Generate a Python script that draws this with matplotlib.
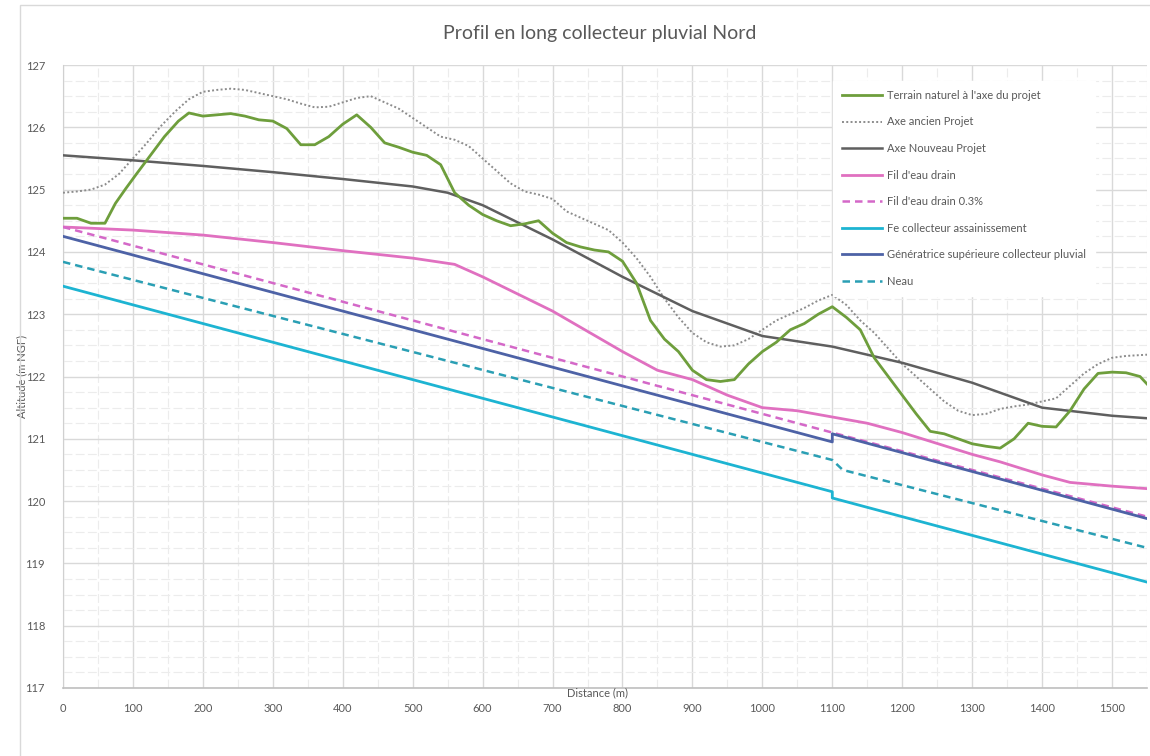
import matplotlib
matplotlib.use("Agg")
import matplotlib.pyplot as plt
from matplotlib.ticker import MultipleLocator
from matplotlib.patches import Rectangle
import numpy as np

plt.rcParams['font.family'] = ['Lato', 'DejaVu Sans']

# ---- data -------------------------------------------------------------
tn_dist = [0, 20, 40, 60, 75, 90, 105, 125, 145, 165, 180, 200, 220, 240, 260,
           280, 300, 320, 340, 360, 380, 400, 420, 440, 460, 480, 500, 520, 540,
           560, 580, 600, 620, 640, 660, 680, 700, 720, 740, 760, 780, 800, 820,
           840, 860, 880, 900, 920, 940, 960, 980, 1000, 1020, 1040, 1060, 1080,
           1100, 1120, 1140, 1160, 1180, 1200, 1220, 1240, 1260, 1280, 1300,
           1320, 1340, 1360, 1380, 1400, 1420, 1440, 1460, 1480, 1500, 1520,
           1540, 1550]
tn_alt = [124.54, 124.54, 124.46, 124.46, 124.78, 125.02, 125.25, 125.55, 125.85,
          126.1, 126.23, 126.18, 126.2, 126.22, 126.18, 126.12, 126.1, 125.98,
          125.72, 125.72, 125.85, 126.05, 126.2, 126.0, 125.75, 125.68, 125.6,
          125.55, 125.4, 124.95, 124.75, 124.6, 124.5, 124.42, 124.45, 124.5,
          124.3, 124.15, 124.08, 124.03, 124.0, 123.85, 123.5, 122.9, 122.6,
          122.4, 122.1, 121.95, 121.92, 121.95, 122.2, 122.4, 122.55, 122.75,
          122.85, 123.0, 123.12, 122.95, 122.75, 122.3, 122.0, 121.7, 121.4,
          121.12, 121.08, 121.0, 120.92, 120.88, 120.85, 121.0, 121.25, 121.2,
          121.19, 121.45, 121.8, 122.05, 122.07, 122.06, 122.0, 121.88]

anc_dist = [0, 20, 40, 60, 80, 100, 120, 140, 160, 180, 200, 220, 240, 260, 280,
            300, 320, 340, 360, 380, 400, 420, 440, 460, 480, 500, 520, 540, 560,
            580, 600, 620, 640, 660, 680, 700, 720, 740, 760, 780, 800, 820, 840,
            860, 880, 900, 920, 940, 960, 980, 1000, 1020, 1040, 1060, 1080, 1100,
            1120, 1140, 1160, 1180, 1200, 1220, 1240, 1260, 1280, 1300, 1320, 1340,
            1360, 1380, 1400, 1420, 1440, 1460, 1480, 1500, 1520, 1550]
anc_alt = [124.95, 124.97, 125.0, 125.08, 125.25, 125.5, 125.75, 126.02, 126.25,
           126.45, 126.57, 126.6, 126.62, 126.6, 126.55, 126.5, 126.45, 126.38,
           126.32, 126.33, 126.4, 126.47, 126.5, 126.4, 126.3, 126.15, 126.0,
           125.85, 125.8, 125.7, 125.5, 125.3, 125.1, 124.97, 124.92, 124.85,
           124.65, 124.55, 124.45, 124.35, 124.15, 123.9, 123.6, 123.25, 122.95,
           122.7, 122.55, 122.48, 122.5, 122.6, 122.75, 122.9, 123.0, 123.1,
           123.22, 123.31, 123.15, 122.9, 122.7, 122.45, 122.2, 122.0, 121.8,
           121.6, 121.45, 121.38, 121.4, 121.48, 121.52, 121.55, 121.6, 121.65,
           121.85, 122.05, 122.2, 122.3, 122.33, 122.35]

nouv_dist = [0, 100, 200, 300, 400, 500, 550, 600, 700, 800, 900, 1000, 1100,
             1200, 1300, 1400, 1500, 1550]
nouv_alt = [125.55, 125.47, 125.38, 125.28, 125.17, 125.05, 124.95, 124.75, 124.2,
            123.6, 123.05, 122.65, 122.48, 122.22, 121.9, 121.5, 121.37, 121.33]

drain_dist = [0, 100, 200, 300, 400, 500, 560, 600, 700, 800, 850, 900, 950, 1000,
              1050, 1100, 1150, 1200, 1300, 1340, 1400, 1440, 1500, 1550]
drain_alt = [124.4, 124.35, 124.27, 124.15, 124.02, 123.9, 123.8, 123.6, 123.05,
             122.4, 122.1, 121.95, 121.7, 121.5, 121.45, 121.35, 121.25, 121.1,
             120.75, 120.63, 120.42, 120.3, 120.24, 120.2]

drain03_dist = [0, 1550]
drain03_alt = [124.4, 119.75]

fe_dist = [0, 1100, 1100, 1550]
fe_alt = [123.45, 120.15, 120.05, 118.7]

gen_dist = [0, 1100, 1100, 1550]
gen_alt = [124.25, 120.95, 121.08, 119.72]

neau_dist = [0, 1100, 1115, 1550]
neau_alt = [123.84, 120.66, 120.5, 119.25]

labels = ["Terrain naturel à l'axe du projet", "Axe ancien Projet",
          "Axe Nouveau Projet", "Fil d'eau drain", "Fil d'eau drain 0.3%",
          "Fe collecteur assainissement",
          "Génératrice supérieure collecteur pluvial", "Neau"]

# ---- figure -----------------------------------------------------------
W, H = 1150, 756
fig = plt.figure(figsize=(W / 100, H / 100), dpi=100)
left, right, top, bottom = 63, 1147, 65, 688
ax = fig.add_axes([left / W, 1 - bottom / H, (right - left) / W, (bottom - top) / H])

# chart frame
fig.add_artist(Rectangle((20 / W, -0.05), 1.2, 1 - 5 / H + 0.05,
                         transform=fig.transFigure, fill=False,
                         edgecolor='#d9d9d9', linewidth=1.0))

ax.plot(tn_dist, tn_alt, color='#6e9e3c', lw=2.0, label=labels[0], zorder=5)
ax.plot(anc_dist, anc_alt, color='#8c8c8c', lw=1.4, ls=(0, (1, 1.2)), label=labels[1], zorder=4)
ax.plot(nouv_dist, nouv_alt, color='#5f5f5f', lw=1.8, label=labels[2], zorder=4)
ax.plot(drain_dist, drain_alt, color='#e070c0', lw=2.0, label=labels[3], zorder=4)
ax.plot(drain03_dist, drain03_alt, color='#d468c8', lw=1.8, ls=(0, (3, 2)), label=labels[4], zorder=4)
ax.plot(fe_dist, fe_alt, color='#1db4d2', lw=2.0, label=labels[5], zorder=4)
ax.plot(gen_dist, gen_alt, color='#4d62a6', lw=2.0, label=labels[6], zorder=4)
ax.plot(neau_dist, neau_alt, color='#2a9fb4', lw=1.8, ls=(0, (3, 2)), label=labels[7], zorder=4)

ax.set_xlim(0, 1550)
ax.set_ylim(117, 127)
ax.xaxis.set_major_locator(MultipleLocator(100))
ax.xaxis.set_minor_locator(MultipleLocator(50))
ax.yaxis.set_major_locator(MultipleLocator(1))
ax.yaxis.set_minor_locator(MultipleLocator(0.25))

ax.grid(which='major', color='#d9d9d9', lw=1.0, zorder=0)
ax.grid(which='minor', color='#ececec', lw=0.8, ls=(0, (8, 3)), zorder=0)
ax.set_axisbelow(True)

for s in ['top', 'right']:
    ax.spines[s].set_visible(False)
ax.spines['left'].set_color('#d0d0d0')
ax.spines['bottom'].set_color('#bfbfbf')
ax.spines['bottom'].set_linewidth(1.2)

ax.tick_params(which='both', length=0, labelsize=8, labelcolor='#595959')
ax.tick_params(axis='y', pad=13)
ax.tick_params(axis='x', pad=11)

ax.set_ylabel('Altitude (m NGF)', fontsize=8, color='#595959')
ax.yaxis.set_label_coords(-0.033, 0.5)
ax.text(0.493, -0.008, 'Distance (m)', transform=ax.transAxes, fontsize=8,
        color='#595959', ha='center', va='center')

fig.text(600 / W, 1 - 33 / H, 'Profil en long collecteur pluvial Nord',
         fontsize=14, color='#595959', ha='center', va='center')

leg = ax.legend(loc='upper left', bbox_to_anchor=((833 - left) / (right - left),
                                                  (bottom - 81) / (bottom - top)),
                borderaxespad=0, fontsize=8, handlelength=3.6, handletextpad=0.45,
                labelspacing=1.4, frameon=True, fancybox=False, borderpad=0.8)
leg.get_frame().set_facecolor('white')
leg.get_frame().set_edgecolor('white')
leg.get_frame().set_alpha(1)
for t in leg.get_texts():
    t.set_color('#595959')
leg.set_zorder(10)

fig.savefig('out.png', dpi=100, facecolor='white')
